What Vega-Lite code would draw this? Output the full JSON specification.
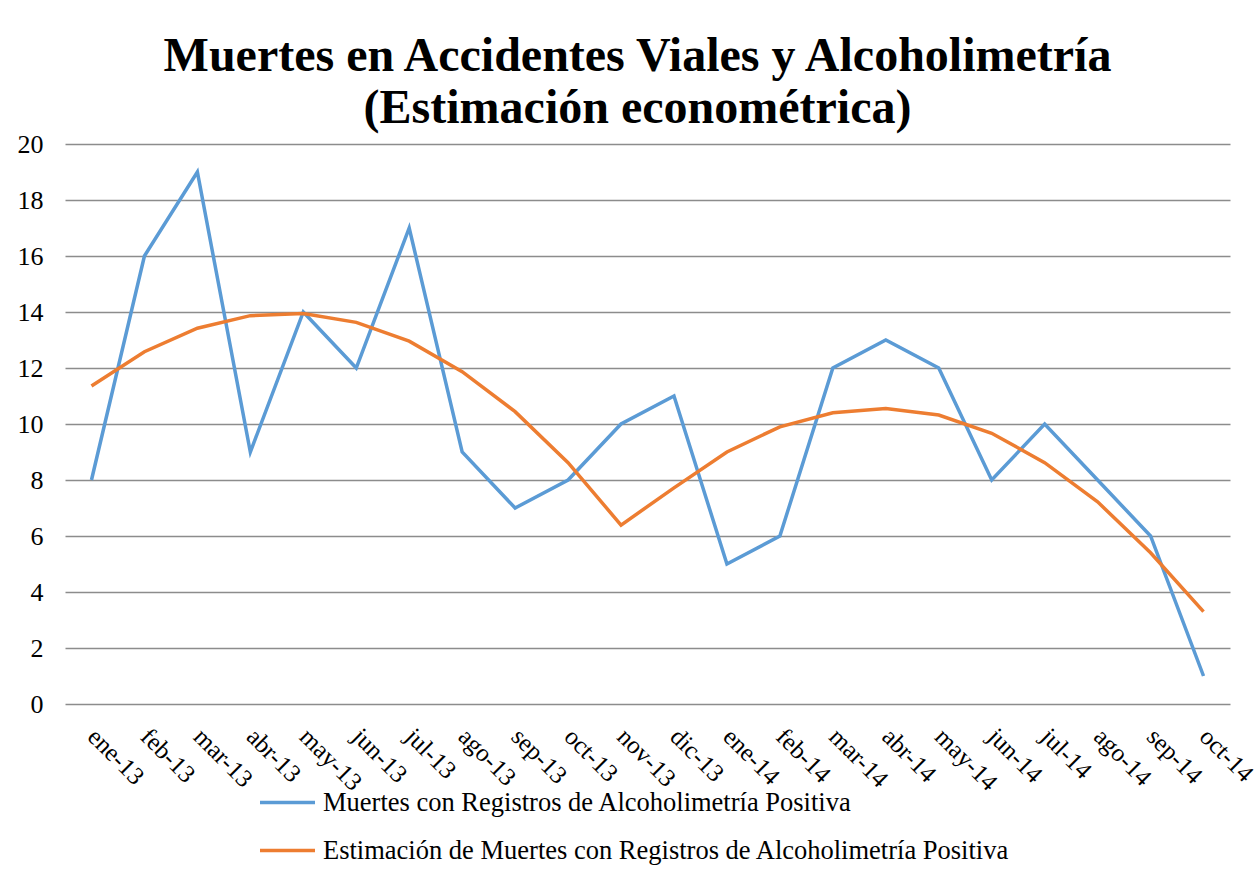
{
  "$schema": "https://vega.github.io/schema/vega-lite/v6.json",
  "width": 1165,
  "height": 560,
  "autosize": {"type": "none"},
  "padding": {"left": 65, "top": 144, "right": 29, "bottom": 184},
  "background": "white",
  "title": {
    "text": ["Muertes en Accidentes Viales y Alcoholimetría", "(Estimación econométrica)"],
    "font": "Liberation Serif",
    "fontSize": 48,
    "fontWeight": "bold",
    "color": "black",
    "lineHeight": 52,
    "anchor": "middle",
    "dx": -10,
    "offset": -2
  },
  "datasets": {
    "d": [
      {"mes": "ene-13", "serie": "Muertes con Registros de Alcoholimetría Positiva", "valor": 8},
      {"mes": "feb-13", "serie": "Muertes con Registros de Alcoholimetría Positiva", "valor": 16},
      {"mes": "mar-13", "serie": "Muertes con Registros de Alcoholimetría Positiva", "valor": 19},
      {"mes": "abr-13", "serie": "Muertes con Registros de Alcoholimetría Positiva", "valor": 9},
      {"mes": "may-13", "serie": "Muertes con Registros de Alcoholimetría Positiva", "valor": 14},
      {"mes": "jun-13", "serie": "Muertes con Registros de Alcoholimetría Positiva", "valor": 12},
      {"mes": "jul-13", "serie": "Muertes con Registros de Alcoholimetría Positiva", "valor": 17},
      {"mes": "ago-13", "serie": "Muertes con Registros de Alcoholimetría Positiva", "valor": 9},
      {"mes": "sep-13", "serie": "Muertes con Registros de Alcoholimetría Positiva", "valor": 7},
      {"mes": "oct-13", "serie": "Muertes con Registros de Alcoholimetría Positiva", "valor": 8},
      {"mes": "nov-13", "serie": "Muertes con Registros de Alcoholimetría Positiva", "valor": 10},
      {"mes": "dic-13", "serie": "Muertes con Registros de Alcoholimetría Positiva", "valor": 11},
      {"mes": "ene-14", "serie": "Muertes con Registros de Alcoholimetría Positiva", "valor": 5},
      {"mes": "feb-14", "serie": "Muertes con Registros de Alcoholimetría Positiva", "valor": 6},
      {"mes": "mar-14", "serie": "Muertes con Registros de Alcoholimetría Positiva", "valor": 12},
      {"mes": "abr-14", "serie": "Muertes con Registros de Alcoholimetría Positiva", "valor": 13},
      {"mes": "may-14", "serie": "Muertes con Registros de Alcoholimetría Positiva", "valor": 12},
      {"mes": "jun-14", "serie": "Muertes con Registros de Alcoholimetría Positiva", "valor": 8},
      {"mes": "jul-14", "serie": "Muertes con Registros de Alcoholimetría Positiva", "valor": 10},
      {"mes": "ago-14", "serie": "Muertes con Registros de Alcoholimetría Positiva", "valor": 8},
      {"mes": "sep-14", "serie": "Muertes con Registros de Alcoholimetría Positiva", "valor": 6},
      {"mes": "oct-14", "serie": "Muertes con Registros de Alcoholimetría Positiva", "valor": 1},
      {"mes": "ene-13", "serie": "Estimación de Muertes con Registros de Alcoholimetría Positiva", "valor": 11.36},
      {"mes": "feb-13", "serie": "Estimación de Muertes con Registros de Alcoholimetría Positiva", "valor": 12.58},
      {"mes": "mar-13", "serie": "Estimación de Muertes con Registros de Alcoholimetría Positiva", "valor": 13.42},
      {"mes": "abr-13", "serie": "Estimación de Muertes con Registros de Alcoholimetría Positiva", "valor": 13.87},
      {"mes": "may-13", "serie": "Estimación de Muertes con Registros de Alcoholimetría Positiva", "valor": 13.95},
      {"mes": "jun-13", "serie": "Estimación de Muertes con Registros de Alcoholimetría Positiva", "valor": 13.63},
      {"mes": "jul-13", "serie": "Estimación de Muertes con Registros de Alcoholimetría Positiva", "valor": 12.96},
      {"mes": "ago-13", "serie": "Estimación de Muertes con Registros de Alcoholimetría Positiva", "valor": 11.87},
      {"mes": "sep-13", "serie": "Estimación de Muertes con Registros de Alcoholimetría Positiva", "valor": 10.44},
      {"mes": "oct-13", "serie": "Estimación de Muertes con Registros de Alcoholimetría Positiva", "valor": 8.62},
      {"mes": "nov-13", "serie": "Estimación de Muertes con Registros de Alcoholimetría Positiva", "valor": 6.39},
      {"mes": "dic-13", "serie": "Estimación de Muertes con Registros de Alcoholimetría Positiva", "valor": 7.72},
      {"mes": "ene-14", "serie": "Estimación de Muertes con Registros de Alcoholimetría Positiva", "valor": 9.0},
      {"mes": "feb-14", "serie": "Estimación de Muertes con Registros de Alcoholimetría Positiva", "valor": 9.9},
      {"mes": "mar-14", "serie": "Estimación de Muertes con Registros de Alcoholimetría Positiva", "valor": 10.4},
      {"mes": "abr-14", "serie": "Estimación de Muertes con Registros de Alcoholimetría Positiva", "valor": 10.55},
      {"mes": "may-14", "serie": "Estimación de Muertes con Registros de Alcoholimetría Positiva", "valor": 10.32},
      {"mes": "jun-14", "serie": "Estimación de Muertes con Registros de Alcoholimetría Positiva", "valor": 9.67},
      {"mes": "jul-14", "serie": "Estimación de Muertes con Registros de Alcoholimetría Positiva", "valor": 8.62},
      {"mes": "ago-14", "serie": "Estimación de Muertes con Registros de Alcoholimetría Positiva", "valor": 7.22},
      {"mes": "sep-14", "serie": "Estimación de Muertes con Registros de Alcoholimetría Positiva", "valor": 5.4},
      {"mes": "oct-14", "serie": "Estimación de Muertes con Registros de Alcoholimetría Positiva", "valor": 3.3}
    ]
  },
  "data": {"name": "d"},
  "mark": {"type": "line", "strokeWidth": 3.5, "strokeJoin": "miter"},
  "encoding": {
    "x": {
      "field": "mes",
      "type": "nominal",
      "sort": null,
      "scale": {"type": "point", "padding": 0.5},
      "axis": {
        "title": null,
        "domain": false,
        "ticks": false,
        "grid": false,
        "labelAngle": 45,
        "labelAlign": "left",
        "labelBaseline": "middle",
        "labelPadding": 28,
        "labelFont": "Liberation Serif",
        "labelFontSize": 25,
        "labelColor": "black"
      }
    },
    "y": {
      "field": "valor",
      "type": "quantitative",
      "scale": {"domain": [0, 20], "nice": false},
      "axis": {
        "title": null,
        "values": [0, 2, 4, 6, 8, 10, 12, 14, 16, 18, 20],
        "domain": false,
        "ticks": false,
        "grid": true,
        "gridColor": "#8c8c8c",
        "gridWidth": 1.6,
        "labelPadding": 22,
        "labelFont": "Liberation Serif",
        "labelFontSize": 26,
        "labelColor": "black"
      }
    },
    "color": {
      "field": "serie",
      "type": "nominal",
      "scale": {
        "domain": ["Muertes con Registros de Alcoholimetría Positiva", "Estimación de Muertes con Registros de Alcoholimetría Positiva"],
        "range": ["#5B9BD5", "#ED7D31"]
      },
      "legend": {
        "title": null,
        "orient": "none",
        "legendX": 193,
        "legendY": 629,
        "direction": "vertical",
        "symbolType": "stroke",
        "symbolSize": 3025,
        "symbolStrokeWidth": 3.5,
        "labelFont": "Liberation Serif",
        "labelFontSize": 26.5,
        "labelColor": "black",
        "labelOffset": 6,
        "labelLimit": 1000,
        "rowPadding": 5
      }
    }
  },
  "config": {"view": {"stroke": null}}
}
